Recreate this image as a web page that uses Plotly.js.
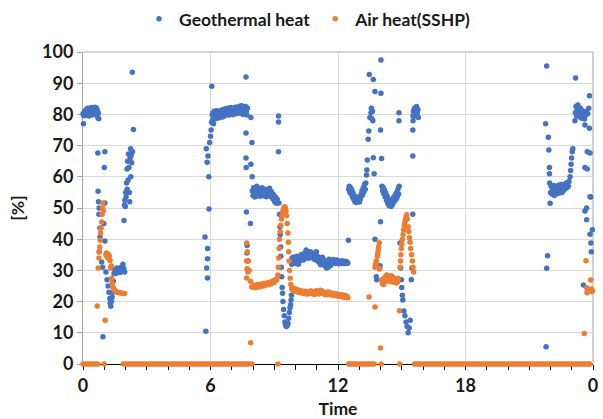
<!DOCTYPE html>
<html>
<head>
<meta charset="utf-8">
<script src="https://cdn.plot.ly/plotly-3.0.1.min.js"></script>
<style>html,body{margin:0;padding:0;background:#fff;}#chart{width:603px;height:419px;}</style>
</head>
<body>
<div id="chart"></div>
<script>
// ---- Data ----
// Geothermal heat share [%] over time of day [h]
var geoTime = [
0.00,0.02,0.04,0.06,0.08,0.10,0.12,0.14,0.16,0.18,0.20,0.22,0.24,0.26,0.28,0.30,0.32,0.34,0.36,0.38,0.40,0.42,0.44,0.46,0.48,0.50,0.52,0.54,0.56,0.58,0.60,0.62,0.64,0.66,0.68,0.70,0.72,0.74,
0.70,0.71,0.73,0.76,0.75,0.80,0.80,0.76,0.88,0.92,0.94,0.98,1.00,1.03,1.03,1.03,1.08,1.13,1.18,1.22,1.26,1.28,1.31,1.34,1.37,1.40,1.43,1.46,1.50,1.55,1.60,1.65,1.70,1.75,1.80,1.85,1.88,1.92,1.96,
1.93,1.95,1.97,1.99,2.01,2.03,2.05,2.07,2.08,2.10,2.12,2.14,2.16,2.18,2.20,2.22,2.24,2.25,2.27,2.29,2.32,2.37,2.33,
5.74,5.78,5.80,5.82,5.84,5.86,5.86,5.86,5.88,5.92,5.93,5.96,6.00,6.03,6.06,
6.05,6.08,6.10,6.12,6.14,6.16,6.18,6.20,6.22,6.25,6.28,6.30,6.33,6.36,6.39,6.42,6.45,6.48,6.51,6.54,6.57,6.60,6.63,6.66,6.69,6.72,6.75,6.78,6.81,6.84,6.87,6.90,6.93,6.96,6.99,7.02,7.05,7.08,7.11,7.14,7.17,7.20,7.23,7.26,7.29,7.32,7.35,7.38,7.41,7.44,7.47,7.50,7.53,7.56,7.59,7.62,7.65,7.68,7.71,7.74,
7.67,7.67,7.67,7.68,7.69,7.72,7.72,7.75,7.88,7.90,7.90,7.95,7.96,
7.97,8.00,8.03,8.06,8.09,8.12,8.15,8.18,8.21,8.24,8.27,8.30,8.33,8.36,8.39,8.42,8.45,8.48,8.51,8.54,8.57,8.60,8.63,8.66,8.69,8.72,8.75,8.78,8.81,8.84,8.87,8.90,8.93,8.96,8.99,9.02,9.06,9.10,9.14,
9.20,9.20,9.20,
9.22,9.25,9.27,9.28,9.30,9.31,9.33,9.35,9.37,9.39,9.41,9.44,9.47,9.50,9.53,9.57,9.61,9.65,9.68,9.71,9.74,9.77,9.79,9.81,9.82,9.84,
9.86,9.90,9.94,9.98,10.02,10.06,10.10,10.14,10.18,10.22,10.26,10.30,10.34,10.38,10.42,10.46,10.50,10.54,10.58,10.62,10.66,10.70,10.74,10.78,10.82,10.86,10.90,10.94,10.98,11.02,11.06,11.10,11.14,11.18,11.22,11.26,11.30,11.34,11.38,11.42,11.46,11.50,11.54,11.58,11.62,11.66,11.70,11.74,11.78,11.82,11.86,11.90,11.94,11.98,12.02,12.06,12.10,12.14,12.18,12.22,12.26,12.30,12.34,12.38,12.42,12.46,
12.49,
12.50,12.53,12.56,12.59,12.62,12.65,12.68,12.71,12.74,12.77,12.80,12.83,12.86,12.89,12.92,12.95,12.98,13.01,13.04,13.07,13.10,13.13,13.16,13.19,13.22,13.25,13.28,13.31,13.34,13.36,13.38,13.42,13.45,13.47,13.50,13.55,13.57,13.59,13.62,13.64,13.66,13.66,13.70,13.74,13.74,13.80,13.82,13.98,13.95,14.00,14.02,14.02,14.00,14.05,
14.07,14.10,14.13,14.16,14.19,14.22,14.25,14.28,14.31,14.34,14.37,14.40,14.43,14.46,14.49,14.52,14.55,14.58,14.61,14.64,14.67,14.70,14.73,14.76,14.79,14.82,14.85,14.87,14.87,14.88,
14.92,14.95,14.98,15.00,15.03,15.05,15.10,15.15,15.20,15.25,15.30,15.35,15.40,15.45,15.48,15.52,
15.52,15.52,15.53,15.53,15.55,15.57,15.60,15.63,15.66,15.70,15.73,15.76,15.78,
21.77,21.82,21.79,21.82,21.86,21.90,21.92,21.95,21.95,21.96,21.98,22.00,22.03,22.06,22.09,22.12,22.15,22.18,22.21,22.24,22.27,22.30,22.33,22.36,22.39,22.42,22.45,22.48,22.51,22.54,22.57,22.60,22.63,22.66,22.69,22.72,22.75,22.78,22.81,22.84,22.87,
22.92,22.95,22.97,22.99,23.02,23.05,23.18,
23.15,23.17,23.20,23.23,23.26,23.29,23.32,23.35,23.38,23.41,23.44,23.47,23.50,23.53,23.56,23.60,23.65,23.70,23.75,23.80,
23.62,23.62,23.62,23.70,23.70,23.73,23.73,23.83,23.83,23.86,23.86,23.86,23.89,23.90,23.92,23.55,23.97
];
var geoHeat = [
80.2,77.0,79.6,80.8,79.9,81.2,80.4,79.7,81.6,80.9,80.1,82.0,81.3,80.5,79.5,81.8,80.7,81.9,80.3,82.1,81.0,79.8,81.5,80.6,82.2,81.1,80.0,81.7,82.3,80.8,81.4,79.9,82.0,80.5,81.2,79.0,80.4,78.6,
67.6,55.4,52.0,50.0,48.0,43.6,40.7,36.0,32.7,31.0,8.7,45.0,63.0,68.0,51.6,39.4,29.5,27.0,25.0,23.0,21.0,19.5,18.5,20.0,21.5,23.0,26.5,29.0,30.2,29.0,30.8,29.6,30.5,29.3,31.0,30.0,32.0,30.6,29.5,
46.0,51.0,52.5,50.5,55.0,53.5,58.0,62.5,56.0,65.0,59.0,67.3,63.0,55.0,52.0,66.0,69.0,60.0,67.0,64.5,93.5,75.2,68.0,
40.7,10.5,69.0,30.8,64.7,37.0,33.7,27.6,66.7,60.0,49.7,71.0,73.0,75.0,89.0,
77.5,79.8,78.2,80.5,77.0,79.0,81.0,78.5,80.0,79.2,81.2,78.8,80.3,79.5,81.0,78.9,80.6,79.7,81.3,80.0,79.2,81.5,80.2,79.6,81.8,80.5,79.9,81.1,82.0,80.4,79.8,81.6,80.7,82.2,80.1,81.4,79.9,82.0,80.8,81.7,80.2,82.4,81.0,80.3,82.1,81.3,80.6,82.6,81.5,80.4,82.8,81.2,80.0,82.3,81.6,80.7,82.5,81.0,79.8,82.0,
92.0,74.0,66.0,63.0,48.7,38.0,35.6,33.0,45.0,79.0,64.0,71.0,60.0,
55.5,54.0,56.5,55.0,53.5,56.0,54.6,57.0,55.3,54.0,56.2,55.0,53.8,55.8,54.5,56.5,55.2,53.9,55.7,54.4,56.0,54.8,53.6,55.4,54.2,55.9,54.6,56.3,54.9,53.7,55.2,54.0,53.0,54.3,53.2,52.0,53.5,51.5,52.8,
79.5,77.6,68.0,
51.6,48.0,44.0,41.5,37.5,34.5,31.0,28.0,24.5,22.7,20.0,17.5,15.5,13.5,12.5,12.0,12.3,13.0,14.7,16.5,18.0,19.0,20.5,22.0,32.0,34.0,
33.0,34.2,32.5,33.8,32.2,34.5,33.0,32.0,34.0,33.2,35.0,33.6,34.8,33.3,35.5,34.0,36.5,34.6,35.8,33.9,35.2,36.0,34.3,35.6,34.0,35.0,33.5,34.8,36.0,33.2,34.4,32.6,33.8,31.8,33.0,34.2,32.0,33.4,31.5,32.8,30.8,32.2,31.0,33.6,32.4,31.6,33.2,32.3,33.5,32.6,33.0,32.2,33.3,32.5,33.0,32.1,32.8,32.4,33.1,32.3,32.7,32.2,32.9,32.4,32.8,32.3,
39.7,
56.0,57.0,55.0,56.5,54.5,55.8,53.5,54.8,52.8,53.8,52.0,53.2,51.8,52.6,53.5,52.2,53.0,51.9,52.8,53.6,54.5,55.5,54.2,56.5,55.2,57.5,56.0,58.0,60.6,62.2,65.4,72.0,74.7,92.8,79.0,80.5,82.0,78.7,81.0,78.0,91.2,66.1,61.0,87.3,40.0,28.0,27.0,31.5,30.5,45.6,97.4,86.8,75.0,65.9,
57.0,55.5,56.5,54.5,55.8,53.5,54.8,52.5,53.8,51.5,52.8,50.8,52.0,51.2,50.5,52.3,51.0,53.0,51.8,53.5,52.4,54.2,52.8,55.0,53.6,56.0,54.5,80.5,78.0,57.0,
38.8,30.8,27.0,24.5,22.0,20.5,17.0,15.5,13.5,12.0,10.0,11.5,14.0,27.0,30.8,48.0,
66.7,75.0,78.0,79.5,81.0,80.0,82.0,81.0,79.5,82.5,80.5,81.5,79.0,
77.0,95.5,5.5,30.7,34.7,72.7,68.6,63.0,61.0,58.0,51.5,55.0,57.0,54.5,56.2,55.0,57.2,54.0,56.0,55.2,57.0,54.6,56.4,55.5,57.3,54.8,56.6,55.3,57.5,55.0,56.8,55.6,57.2,56.0,57.8,56.4,58.0,56.6,58.2,57.0,58.5,
60.0,62.0,64.0,66.0,68.0,69.0,91.7,
78.0,80.5,82.5,79.5,81.5,83.0,80.0,81.8,79.2,82.0,80.6,78.8,81.2,79.5,80.8,78.5,79.8,81.0,80.2,82.0,
76.6,63.0,49.0,50.0,46.2,68.0,62.5,86.0,75.6,67.6,53.6,41.6,53.5,38.8,36.0,25.3,43.0
];

// Air heat (SSHP) share [%], non-zero readings
var airTime = [
0.67,0.72,0.75,0.77,0.79,0.81,0.83,0.85,0.88,0.90,0.92,0.94,0.96,1.04,1.08,1.11,1.14,1.17,1.20,1.24,1.27,1.30,1.33,1.35,1.37,1.40,1.43,1.46,1.50,1.55,1.60,1.66,1.72,1.78,1.84,1.90,1.96,
7.70,7.73,7.70,7.72,7.78,7.70,7.76,7.89,7.82,7.88,7.94,
8.00,8.04,8.08,8.12,8.16,8.20,8.24,8.28,8.32,8.36,8.40,8.44,8.48,8.52,8.56,8.60,8.64,8.68,8.72,8.76,8.80,8.84,8.88,8.92,8.96,9.00,9.04,9.08,9.12,
9.17,9.19,9.21,9.23,9.25,9.28,9.31,9.34,9.37,9.40,9.43,9.46,9.49,9.52,9.55,9.58,9.61,9.64,9.66,9.68,9.70,9.72,9.75,9.78,9.82,
9.86,9.90,9.94,9.98,10.02,10.06,10.10,10.14,10.18,10.22,10.26,10.30,10.34,10.38,10.42,10.46,10.50,10.54,10.58,10.62,10.66,10.70,10.74,10.78,10.82,10.86,10.90,10.94,10.98,11.02,11.06,11.10,11.14,11.18,11.22,11.26,11.30,11.34,11.38,11.42,11.46,11.50,11.54,11.58,11.62,11.66,11.70,11.74,11.78,11.82,11.86,11.90,11.94,11.98,12.02,12.06,12.10,12.14,12.18,12.22,12.26,12.30,12.34,12.38,12.42,12.46,
13.46,13.74,
13.74,13.76,13.78,13.80,13.82,13.85,13.87,13.89,13.91,13.94,13.96,14.00,
14.05,14.08,14.11,14.14,14.17,14.20,14.23,14.26,14.29,14.32,14.35,14.38,14.41,14.44,14.47,14.50,14.53,14.56,14.59,14.62,14.65,14.68,14.71,14.74,14.77,14.80,14.83,14.89,
14.92,14.94,14.96,14.98,15.00,15.03,15.06,15.09,15.12,15.15,15.18,15.21,15.23,15.26,15.30,15.33,15.36,15.39,15.42,15.46,15.50,15.53,15.56,
23.59,23.67,23.70,23.72,23.75,23.89,23.92,23.94,23.97
];
var airHeat = [
18.6,30.8,34.0,36.0,37.5,39.7,42.0,43.6,45.5,48.0,50.0,51.6,49.0,14.0,35.0,35.6,34.2,35.3,33.8,34.6,33.2,30.8,31.5,27.5,26.0,25.0,24.2,23.8,23.4,23.2,23.0,22.9,22.8,22.8,22.7,22.6,22.6,
38.8,36.0,33.0,30.5,33.0,27.6,29.5,6.8,30.0,26.5,24.7,
25.0,24.6,25.3,24.5,25.1,24.8,25.5,24.7,25.2,25.6,24.9,25.4,25.8,25.1,25.6,25.9,25.3,25.8,26.1,25.5,26.0,26.3,25.8,26.4,26.7,26.2,26.9,27.2,27.0,
28.5,31.0,34.0,37.0,40.0,42.5,44.5,46.5,47.8,48.8,49.6,50.2,50.4,50.0,49.0,47.5,45.0,42.0,39.0,36.0,33.0,30.0,27.5,25.5,24.2,
23.8,24.3,23.5,24.0,23.3,23.9,23.1,23.6,22.9,23.5,22.8,23.4,22.7,23.2,22.6,23.3,22.5,23.0,22.4,23.1,22.6,23.4,22.8,23.3,22.5,23.0,22.3,22.9,23.5,22.7,23.2,22.4,22.9,23.6,22.8,23.3,22.6,23.0,22.3,22.8,22.2,22.7,23.1,22.4,22.9,22.2,22.7,22.1,22.6,22.0,22.5,21.9,22.4,21.8,22.3,21.7,22.2,21.6,22.1,21.5,22.0,21.4,21.9,21.3,21.7,21.2,
21.5,18.3,
31.0,32.0,31.5,33.0,32.5,34.5,35.5,36.5,37.5,38.9,30.5,5.1,
27.0,25.8,26.8,25.5,27.5,26.2,28.0,27.0,28.5,27.4,28.2,26.8,27.8,26.5,27.5,28.3,27.0,26.3,27.7,26.6,27.4,26.2,27.2,26.0,27.0,26.4,27.5,17.1,
31.0,33.0,35.0,37.0,38.5,40.0,41.5,43.0,44.5,45.5,46.5,47.2,47.8,46.5,44.0,42.5,40.5,39.0,37.0,35.0,33.0,31.0,29.5,
9.8,33.1,24.4,22.8,23.5,26.9,24.0,23.2,23.5
];

// Times at which the air heat share reads 0 %
var airZeroTime = [
0.0,0.1,0.2,0.3,0.4,0.5,0.6,0.7,
1.0,
1.9,2.0,2.1,2.2,2.3,2.4,2.5,2.6,2.7,2.8,2.9,3.0,3.1,3.2,3.3,3.4,3.5,3.6,3.7,3.8,3.9,4.0,4.1,4.2,4.3,4.4,4.5,4.6,4.7,4.8,4.9,5.0,5.1,5.2,5.3,5.4,5.5,5.6,5.7,5.8,5.9,6.0,6.1,6.2,6.3,6.4,6.5,6.6,6.7,6.8,6.9,7.0,7.1,7.2,7.3,7.4,7.5,7.6,7.7,7.8,
7.95,9.18,
12.5,12.6,12.7,12.8,12.9,13.0,13.1,13.2,13.3,13.4,13.5,13.6,13.7,
14.03,14.90,
15.6,15.7,15.8,15.9,16.0,16.1,16.2,16.3,16.4,16.5,16.6,16.7,16.8,16.9,17.0,17.1,17.2,17.3,17.4,17.5,17.6,17.7,17.8,17.9,18.0,18.1,18.2,18.3,18.4,18.5,18.6,18.7,18.8,18.9,19.0,19.1,19.2,19.3,19.4,19.5,19.6,19.7,19.8,19.9,20.0,20.1,20.2,20.3,20.4,20.5,20.6,20.7,20.8,20.9,21.0,21.1,21.2,21.3,21.4,21.5,21.6,21.7,21.8,21.9,22.0,22.1,22.2,22.3,22.4,22.5,22.6,22.7,22.8,22.9,23.0,23.1,23.2,23.3,23.4,23.5,23.6,23.7,23.8,23.85
];

var xTickStep = 6;
var yTickStep = 10;

// ---- Build traces ----
var airAllTime = airTime.concat(airZeroTime);
var airAllHeat = airHeat.concat(airZeroTime.map(function(){ return 0; }));

var fontFam = 'Lato, "Open Sans", "DejaVu Sans", sans-serif';

var traces = [
  {type:'scatter', mode:'markers', name:'Geothermal heat', x:geoTime, y:geoHeat,
   marker:{color:'#4472C4', size:5.5}, cliponaxis:false},
  {type:'scatter', mode:'markers', name:'Air heat(SSHP)', x:airAllTime, y:airAllHeat,
   marker:{color:'#ED7D31', size:5.5}, cliponaxis:false}
];

var layout = {
  width:603, height:419,
  margin:{l:83, r:10, t:52, b:55},
  paper_bgcolor:'#ffffff', plot_bgcolor:'#ffffff',
  font:{family:fontFam, size:18, color:'#1a1a1a', weight:'bold'},
  showlegend:true,
  legend:{orientation:'h', xref:'container', x:0.51, xanchor:'center', yref:'container', y:0.955, yanchor:'middle',
          font:{size:17.5, weight:'bold', family:fontFam}, itemwidth:30, tracegroupgap:0, bgcolor:'rgba(0,0,0,0)'},
  xaxis:{range:[0,24], tickmode:'linear', tick0:0, dtick:xTickStep, labelalias:{'24':'0'},
         showgrid:true, gridcolor:'#d9d9d9', gridwidth:1, zeroline:false,
         showline:true, linecolor:'#000000', linewidth:1, layer:'below traces',
         ticks:'outside', ticklen:5, tickcolor:'#000000', tickwidth:1,
         minor:{dtick:1, ticks:'outside', ticklen:5, tickcolor:'#000000', tickwidth:1, showgrid:false},
         tickfont:{size:18, weight:'bold', family:fontFam},
         title:{text:'Time', font:{size:17.5, weight:'bold', family:fontFam}, standoff:10}},
  yaxis:{range:[0,100], tickmode:'linear', tick0:0, dtick:yTickStep,
         showgrid:true, gridcolor:'#d9d9d9', gridwidth:1, zeroline:false,
         showline:true, linecolor:'#a6a6a6', linewidth:1, layer:'below traces',
         ticks:'outside', ticklen:5, tickcolor:'#a6a6a6', tickwidth:1,
         tickfont:{size:18, weight:'bold', family:fontFam},
         title:{text:'[%]', font:{size:17.5, weight:'bold', family:fontFam}, standoff:12}},
  shapes:[
    {type:'line', xref:'paper', yref:'paper', x0:0, x1:1, y0:1, y1:1, line:{color:'#a6a6a6', width:1}, layer:'below'},
    {type:'line', xref:'paper', yref:'paper', x0:1, x1:1, y0:0, y1:1, line:{color:'#a6a6a6', width:1}, layer:'below'}
  ]
};

Plotly.newPlot('chart', traces, layout, {displayModeBar:false, staticPlot:true});
</script>
</body>
</html>
